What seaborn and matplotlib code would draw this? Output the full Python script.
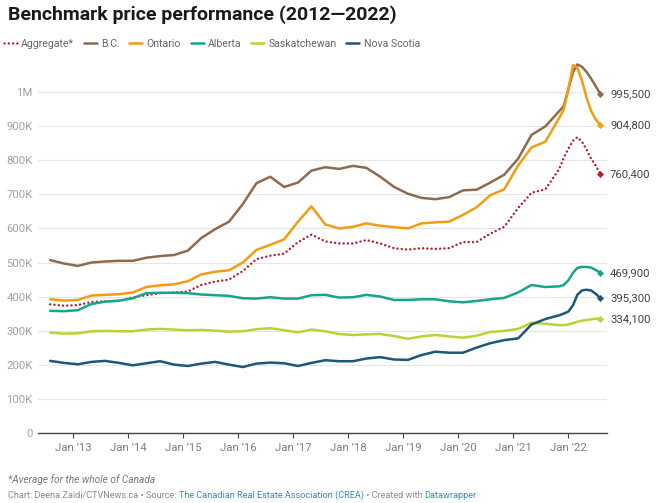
import matplotlib
matplotlib.use("Agg")
import matplotlib.pyplot as plt
from matplotlib.ticker import FuncFormatter
import numpy as np
import pandas as pd
import seaborn as sns

# quarterly readings up to Nov 2021, monthly after that (the peak needs more detail)
QUARTER_DATES = pd.date_range("2012-08-01", "2021-11-01", freq="3MS")
MONTH_DATES = pd.date_range("2021-12-01", "2022-08-01", freq="MS")
DATES = QUARTER_DATES.append(MONTH_DATES)

# benchmark prices, thousands of dollars
AGGREGATE = [377, 373, 375, 384, 386, 387, 398, 404, 410, 412, 415, 434, 444, 450, 475,
             510, 520, 526, 560, 582, 562, 556, 556, 566, 556, 542, 538, 542, 540, 542,
             560, 560, 585, 605, 660, 705, 715, 775,
             808, 835, 858, 868, 855, 832, 805, 785, 760.4]
BC = [507, 497, 490, 500, 503, 505, 505, 514, 519, 522, 535, 572, 598, 620, 672,
      733, 752, 722, 735, 770, 780, 775, 784, 778, 752, 722, 702, 690, 686, 692,
      712, 714, 735, 758, 805, 875, 900, 945,
      960, 1010, 1060, 1082, 1075, 1060, 1040, 1018, 995.5]
ONTARIO = [392, 388, 390, 403, 405, 407, 412, 428, 433, 436, 445, 465, 473, 477, 500,
           537, 552, 568, 620, 665, 612, 600, 605, 615, 608, 604, 600, 615, 618, 620,
           640, 662, 698, 715, 785, 838, 855, 925,
           950, 1010, 1080, 1072, 1035, 985, 945, 920, 904.8]
ALBERTA = [358, 357, 360, 378, 385, 388, 395, 410, 411, 411, 410, 406, 404, 402, 395,
           394, 398, 394, 394, 404, 405, 397, 398, 405, 400, 390, 390, 392, 392, 386,
           383, 387, 392, 396, 412, 434, 428, 430,
           434, 448, 470, 484, 487, 487, 485, 478, 469.9]
SASKATCHEWAN = [294, 291, 292, 298, 299, 298, 298, 303, 305, 303, 301, 302, 300, 297, 298,
                304, 307, 301, 295, 303, 298, 290, 287, 289, 290, 284, 276, 283, 287, 283,
                279, 285, 296, 299, 305, 323, 320, 316,
                316, 318, 322, 326, 329, 331, 333, 335, 334.1]
NOVA_SCOTIA = [211, 205, 201, 208, 211, 205, 198, 204, 210, 200, 196, 203, 208, 200, 193,
               203, 206, 204, 196, 205, 213, 210, 210, 218, 222, 215, 214, 228, 238, 235,
               235, 250, 263, 272, 277, 318, 334, 345,
               350, 356, 375, 405, 418, 420, 418, 408, 395.3]

DOTTED = (0, (0.01, 1.7))
SERIES = [
    ("Aggregate*", AGGREGATE, "#b5202f", DOTTED),
    ("B.C.", BC, "#8f6a4c", "-"),
    ("Ontario", ONTARIO, "#f39c12", "-"),
    ("Alberta", ALBERTA, "#17a589", "-"),
    ("Saskatchewan", SASKATCHEWAN, "#b6d433", "-"),
    ("Nova Scotia", NOVA_SCOTIA, "#1b5877", "-"),
]
TICK_YEARS = list(range(2013, 2023))
Y_TICKS = list(range(0, 1_000_001, 100_000))


def fmt_k(v, _pos):
    if v == 0:
        return "0"
    if v >= 1_000_000:
        return f"{v / 1_000_000:g}M"
    return f"{v / 1000:g}K"


def main() -> None:
    sns.set_theme(style="white")
    plt.rcParams["font.family"] = ["Roboto", "DejaVu Sans"]

    W, H = 660, 503
    fig = plt.figure(figsize=(W / 100, H / 100), dpi=100)
    left, right, top, bottom = 38, 607, 58.3, 432.7
    ax = fig.add_axes([left / W, 1 - bottom / H, (right - left) / W, (bottom - top) / H])

    for name, vals, color, ls in SERIES:
        values = np.array(vals) * 1000
        sns.lineplot(x=DATES, y=values, color=color, linewidth=1.8, linestyle=ls,
                     dash_capstyle="round", solid_capstyle="round", label=name, ax=ax, zorder=3)
        ax.scatter([DATES[-1]], [values[-1]], marker="D", s=13, color=color,
                   zorder=4, clip_on=False, linewidths=0)
        ax.annotate(f"{int(round(values[-1])):,}", (DATES[-1], values[-1]),
                    xytext=(7, 0), textcoords="offset points", va="center",
                    ha="left", fontsize=8.2, color="#444444", annotation_clip=False)

    ax.set_ylim(0, 1_100_000)
    ax.set_xlim(pd.Timestamp("2012-05-12"), pd.Timestamp("2022-09-14"))
    ax.set_yticks(Y_TICKS)
    ax.yaxis.set_major_formatter(FuncFormatter(fmt_k))
    ax.set_xticks([pd.Timestamp(f"{y}-01-01") for y in TICK_YEARS])
    ax.set_xticklabels([f"Jan \u2019{y % 100:02d}" for y in TICK_YEARS])
    ax.grid(axis="y", color="#e5e5e5", linewidth=0.8)
    ax.set_axisbelow(True)
    for side in ["top", "right", "left"]:
        ax.spines[side].set_visible(False)
    ax.spines["bottom"].set_color("#444444")
    ax.spines["bottom"].set_linewidth(1.0)
    ax.tick_params(axis="y", length=0, pad=4, labelsize=8.2, labelcolor="#a3a3a3")
    ax.tick_params(axis="x", length=3.5, width=0.8, color="#444444", pad=4,
                   labelsize=8.2, labelcolor="#808080", bottom=True)
    ax.set_xlabel("")
    ax.set_ylabel("")

    handles, labels = ax.get_legend_handles_labels()
    ax.get_legend().remove()
    fig.legend(handles[:6], labels[:6], loc="center left", bbox_to_anchor=(0.0, 1 - 44 / H),
               ncol=6, frameon=False, fontsize=7.6, handlelength=1.25, handletextpad=0.4,
               columnspacing=0.9, labelcolor="#666666", borderaxespad=0, borderpad=0.35)

    fig.text(8 / W, 1 - 15 / H, "Benchmark price performance (2012\u20142022)",
             fontsize=14, fontweight="bold", color="#1a1a1a", ha="left", va="center")

    fig.text(8 / W, 1 - 480 / H, "*Average for the whole of Canada", fontsize=7.3,
             style="italic", color="#777777", ha="left", va="center")

    fig.canvas.draw()
    renderer = fig.canvas.get_renderer()
    parts = [
        ("Chart: Deena Zaidi/CTVNews.ca \u2022 Source: ", "#8a8a8a"),
        ("The Canadian Real Estate Association (CREA)", "#2d8fb5"),
        (" \u2022 Created with ", "#8a8a8a"),
        ("Datawrapper", "#2d8fb5"),
    ]
    x = 8 / W
    for text, color in parts:
        t = fig.text(x, 1 - 495 / H, text, fontsize=6.6, color=color, ha="left", va="center")
        x = t.get_window_extent(renderer).x1 / fig.bbox.width

    fig.savefig("out.png", dpi=100, facecolor="white")
    plt.close(fig)


if __name__ == "__main__":
    main()
